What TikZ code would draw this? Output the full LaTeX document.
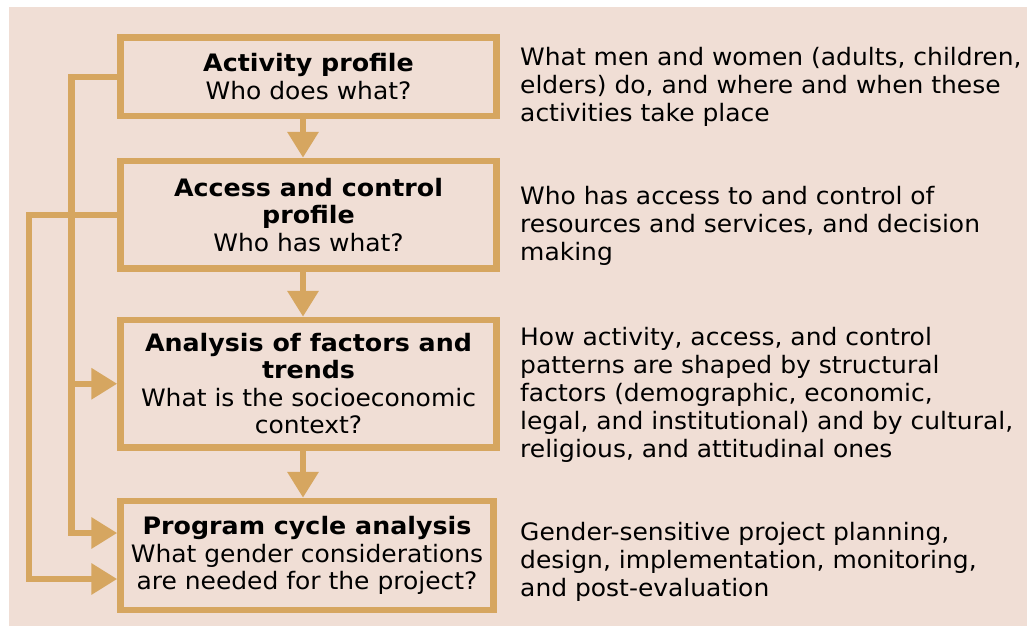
\documentclass[tikz,border=0pt]{standalone}
\usepackage{fontspec}
\setmainfont{DejaVu Sans}[FakeStretch=1.04,BoldFeatures={FakeStretch=1.055}]
\usetikzlibrary{arrows.meta}
\definecolor{paper}{RGB}{240,222,213}
\definecolor{ochre}{RGB}{214,166,96}
\begin{document}
\begin{tikzpicture}[x=1pt,y=-1pt,
  stagebox/.style={draw=ochre,line width=6.5pt,minimum width=376pt,align=center,
    inner sep=0pt,font=\fontsize{24}{27.5}\selectfont},
  note/.style={anchor=base west,align=left,inner sep=0pt,
    font=\fontsize{24}{27.8}\selectfont},
  link/.style={draw=ochre,line width=6.5pt},
  flow/.style={link,-{Triangle[width=30pt,length=26pt]}}]
  % canvas
  \useasboundingbox (0,0) rectangle (1027,626);
  \fill[white] (0,0) rectangle (1027,626);
  \fill[paper] (9,7) rectangle (1027,626);
  % stages
  \node[stagebox,minimum height=78.5pt] (b1) at (308.5,76.75)
    {\textbf{Activity profile}\\Who does what?};
  \node[stagebox,minimum height=107.5pt] (b2) at (308.5,214.75)
    {\textbf{Access and control}\\\textbf{profile}\\Who has what?};
  \node[stagebox,minimum height=127.5pt] (b3) at (308.5,383.75)
    {\textbf{Analysis of factors and}\\\textbf{trends}\\What is the socioeconomic\\context?};
  \node[stagebox,minimum width=373pt,minimum height=109pt] (b4) at (307,555.5)
    {\textbf{Program cycle analysis}\\What gender considerations\\are needed for the project?};
  % descriptions (anchored at the baseline of their last line)
  \node[note] (d1) at (520,121) {What men and women (adults, children,\\elders) do, and where and when these\\activities take place};
  \node[note] (d2) at (520,260) {Who has access to and control of\\resources and services, and decision\\making};
  \node[note] (d3) at (520,457) {How activity, access, and control\\patterns are shaped by structural\\factors (demographic, economic,\\legal, and institutional) and by cultural,\\religious, and attitudinal ones};
  \node[note] (d4) at (520,596) {Gender-sensitive project planning,\\design, implementation, monitoring,\\and post-evaluation};
  % helper coordinates
  \coordinate (ax) at (303,0);
  \coordinate (l1) at (71.5,0);
  \coordinate (l2) at (29,0);
  \path (b4.west) ++(0,-22.5) coordinate (p4a);
  \path (b4.west) ++(0,23.5) coordinate (p4b);
  % main sequence
  \draw[flow] (b1.south -| ax) -- (b2.north -| ax);
  \draw[flow] (b2.south -| ax) -- (b3.north -| ax);
  \draw[flow] (b3.south -| ax) -- (b4.north -| ax);
  % feedback connectors on the left
  \draw[flow] (b1.west) -| (l1 |- p4a) -- (p4a);
  \draw[flow] (l1 |- b3.west) -- (b3.west);
  \draw[flow] (b2.west) -| (l2 |- p4b) -- (p4b);
\end{tikzpicture}
\end{document}
